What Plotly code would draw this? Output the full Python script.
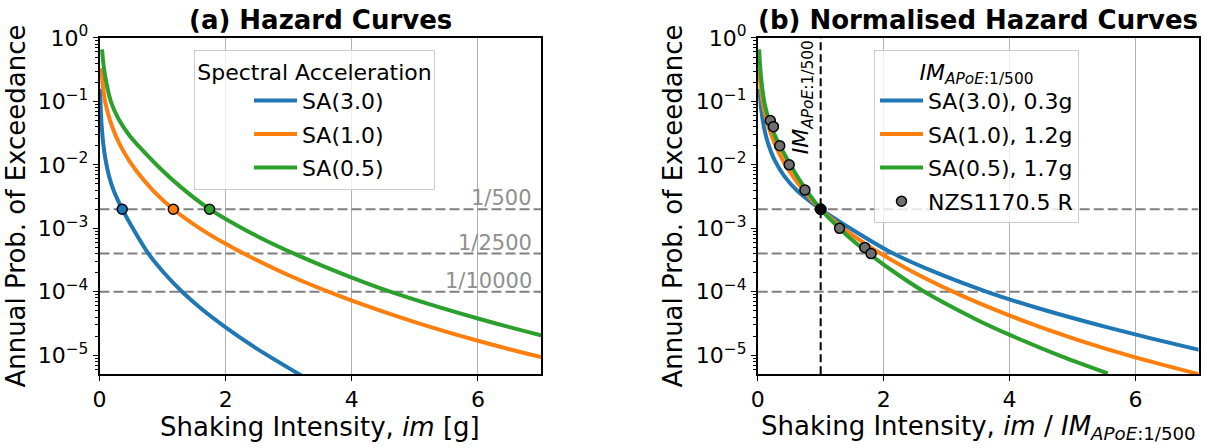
import math
import plotly.graph_objects as go

# ---------------- data ----------------
sa_labels = ["SA(3.0)", "SA(1.0)", "SA(0.5)"]
sa_labels_norm = ["SA(3.0), 0.3g", "SA(1.0), 1.2g", "SA(0.5), 1.7g"]
colors = ["#1f77b4", "#ff7f0e", "#2ca02c"]

# hazard curves: shaking intensity [g] and annual probability of exceedance
sa30_im = [0.01, 0.02, 0.036, 0.06, 0.094, 0.15, 0.223, 0.36, 0.5, 0.77, 1.0, 1.31, 1.6, 2.0, 2.5, 3.2]
sa30_apoe = [0.158, 0.075, 0.0389, 0.0214, 0.0123, 6.76e-3, 3.98e-3, 2.0e-3, 1.12e-3, 4.07e-4,
             2.11e-4, 1.0e-4, 5.55e-5, 2.75e-5, 1.26e-5, 4.79e-6]

sa10_im = [0.03, 0.05, 0.092, 0.16, 0.265, 0.4, 0.58, 0.85, 1.17, 1.59, 2.0, 2.3, 3.0, 3.8, 5.0,
           6.0, 7.0, 8.25]
sa10_apoe = [0.333, 0.190, 0.0966, 0.0525, 0.0276, 0.0151, 8.15e-3, 3.94e-3, 2.0e-3, 1.0e-3,
             5.69e-4, 3.93e-4, 1.82e-4, 8.63e-5, 3.33e-5, 1.69e-5, 9.35e-6, 4.90e-6]

sa05_im = [0.04, 0.065, 0.107, 0.186, 0.3, 0.477, 0.7, 0.976, 1.3, 1.745, 2.0, 2.5, 3.11, 3.96,
           4.62, 6.0, 7.0, 8.4, 9.7]
sa05_apoe = [0.661, 0.369, 0.2, 0.0955, 0.0533, 0.0288, 0.01626, 8.51e-3, 4.37e-3, 2.0e-3,
             1.406e-3, 7.52e-4, 3.89e-4, 1.74e-4, 1.0e-4, 3.80e-5, 2.07e-5, 9.70e-6, 5.19e-6]

# intensity at APoE 1/500 for each curve [g]
im_500 = [0.36, 1.17, 1.745]

# reference probability levels
apoe_levels = [1 / 500, 1 / 2500, 1 / 10000]
apoe_labels = ["1/500", "1/2500", "1/10000"]

# NZS1170.5 return-period factor R vs annual probability
nzs_r = [0.2, 0.25, 0.35, 0.5, 0.75, 1.0, 1.3, 1.7, 1.8]
nzs_apoe = [1 / 20, 1 / 25, 1 / 50, 1 / 100, 1 / 250, 1 / 500, 1 / 1000, 1 / 2000, 1 / 2500]

# axis ticks
x_ticks = [0, 2, 4, 6]
y_ticks = [1, 1e-1, 1e-2, 1e-3, 1e-4, 1e-5]
y_ticktext = ["10<sup>0</sup>", "10<sup>\u22121</sup>", "10<sup>\u22122</sup>",
              "10<sup>\u22123</sup>", "10<sup>\u22124</sup>", "10<sup>\u22125</sup>"]

curves_im = [sa30_im, sa10_im, sa05_im]
curves_apoe = [sa30_apoe, sa10_apoe, sa05_apoe]

# ---------------- figure ----------------
FONT = "DejaVu Sans"
W, H = 1211, 448
fig = go.Figure()

# reference dashed lines (both panels)
for xa, ya in [("x", "y"), ("x2", "y2")]:
    for lv in apoe_levels:
        fig.add_trace(go.Scatter(x=[0, 7], y=[lv, lv], mode="lines", xaxis=xa, yaxis=ya,
                                 line=dict(color="#808080", width=2, dash="10px,4px"),
                                 showlegend=False, hoverinfo="skip"))

# panel (a)
for i in range(3):
    fig.add_trace(go.Scatter(x=curves_im[i], y=curves_apoe[i], mode="lines", name=sa_labels[i],
                             line=dict(color=colors[i], width=4, shape="spline", smoothing=0.8),
                             xaxis="x", yaxis="y", legend="legend", legendgroup=f"a{i}"))
for i in range(3):
    fig.add_trace(go.Scatter(x=[im_500[i]], y=[apoe_levels[0]], mode="markers", showlegend=False,
                             marker=dict(color=colors[i], size=10, line=dict(color="black", width=1.5)),
                             xaxis="x", yaxis="y"))

# panel (b): normalised curves
fig.add_trace(go.Scatter(x=[1, 1], y=[5e-6, 1], mode="lines", xaxis="x2", yaxis="y2",
                         line=dict(color="black", width=2, dash="8px,4px"),
                         showlegend=False, hoverinfo="skip"))
for i in range(3):
    xn = [v / im_500[i] for v in curves_im[i]]
    fig.add_trace(go.Scatter(x=xn, y=curves_apoe[i], mode="lines", name=sa_labels_norm[i],
                             line=dict(color=colors[i], width=4, shape="spline", smoothing=0.8),
                             xaxis="x2", yaxis="y2", legend="legend2", legendgroup=f"b{i}"))
fig.add_trace(go.Scatter(x=nzs_r, y=nzs_apoe, mode="markers", name="NZS1170.5 R",
                         marker=dict(color="#6e6e6e", size=10, line=dict(color="black", width=1.5)),
                         xaxis="x2", yaxis="y2", legend="legend2", legendgroup="b3"))
fig.add_trace(go.Scatter(x=[1], y=[apoe_levels[0]], mode="markers", showlegend=False,
                         marker=dict(color="black", size=11, line=dict(color="black", width=1)),
                         xaxis="x2", yaxis="y2"))

# ---------------- layout ----------------
y0, y1 = (H - 374.3) / H, (H - 37.9) / H
xd1 = [99.5 / W, 541 / W]
xd2 = [757.7 / W, 1198.5 / W]

minor_vals = [k * 10 ** e for e in range(-6, 0) for k in range(2, 10)]

def xaxis_style(domain, anchor):
    return dict(domain=domain, anchor=anchor, range=[0, 7], tickmode="array", tickvals=x_ticks,
                ticks="outside", ticklen=5, tickwidth=1.3, tickcolor="black", automargin=False,
                showgrid=True, gridcolor="#b0b0b0", gridwidth=1, zeroline=False,
                showline=True, linecolor="black", linewidth=1.5, mirror=True,
                tickfont=dict(family=FONT, size=22, color="black"))

def yaxis_style(anchor):
    return dict(domain=[y0, y1], anchor=anchor, type="log", range=[-5.3, 0], automargin=False,
                tickmode="array", tickvals=y_ticks, ticktext=y_ticktext,
                ticks="outside", ticklen=5, tickwidth=1.3, tickcolor="black",
                minor=dict(tickmode="array", tickvals=minor_vals, ticks="outside", ticklen=3,
                           tickwidth=1, tickcolor="black", showgrid=False),
                showgrid=False, zeroline=False,
                showline=True, linecolor="black", linewidth=1.5, mirror=True,
                tickfont=dict(family=FONT, size=22, color="black"))

legend_common = dict(bgcolor="rgba(255,255,255,0.8)", bordercolor="#cccccc", borderwidth=1,
                     font=dict(family=FONT, size=22, color="black"), xanchor="left", yanchor="top",
                     itemwidth=43, tracegroupgap=2, traceorder="grouped")

fig.update_layout(
    template="none",
    width=W, height=H, margin=dict(l=0, r=0, t=0, b=0, pad=0, autoexpand=False),
    paper_bgcolor="white", plot_bgcolor="white",
    font=dict(family=FONT, color="black"),
    xaxis=xaxis_style(xd1, "y"), yaxis=yaxis_style("x"),
    xaxis2=xaxis_style(xd2, "y2"), yaxis2=yaxis_style("x2"),
    legend=dict(x=194 / W, y=(H - 50) / H, indentation=54,
                title=dict(text="Spectral Acceleration", side="top center",
                           font=dict(family=FONT, size=22, color="black")), **legend_common),
    legend2=dict(x=874 / W, y=(H - 50) / H, indentation=0,
                 title=dict(text="<i>IM</i><sub><i>APoE</i>:1/500</sub>", side="top center",
                            font=dict(family=FONT, size=22, color="black")), **legend_common),
    showlegend=True,
)

ann = []
# titles
ann.append(dict(text="<b>(a) Hazard Curves</b>", x=(xd1[0] + xd1[1]) / 2, y=(H - 20) / H,
                xref="paper", yref="paper", showarrow=False, xanchor="center", yanchor="middle",
                font=dict(family=FONT, size=26, color="black")))
ann.append(dict(text="<b>(b) Normalised Hazard Curves</b>", x=(xd2[0] + xd2[1]) / 2, y=(H - 20) / H,
                xref="paper", yref="paper", showarrow=False, xanchor="center", yanchor="middle",
                font=dict(family=FONT, size=26, color="black")))
# axis titles
for cx in [16.5 / W, 673.5 / W]:
    ann.append(dict(text="Annual Prob. of Exceedance", x=cx, y=(y0 + y1) / 2, textangle=-90,
                    xref="paper", yref="paper", showarrow=False, xanchor="center", yanchor="middle",
                    font=dict(family=FONT, size=26, color="black")))
ann.append(dict(text="Shaking Intensity, <i>im</i> [g]", x=(xd1[0] + xd1[1]) / 2, y=(H - 427) / H,
                xref="paper", yref="paper", showarrow=False, xanchor="center", yanchor="middle",
                font=dict(family=FONT, size=26, color="black")))
ann.append(dict(text="Shaking Intensity, <i>im</i> / <i>IM</i><sub><i>APoE</i>:1/500</sub>",
                x=(xd2[0] + xd2[1]) / 2, y=(H - 427) / H,
                xref="paper", yref="paper", showarrow=False, xanchor="center", yanchor="middle",
                font=dict(family=FONT, size=26, color="black")))
# reference level labels (panel a)
for lv, lab in zip(apoe_levels, apoe_labels):
    ann.append(dict(text=lab, x=7, y=math.log10(lv), xref="x", yref="y", showarrow=False,
                    xanchor="right", yanchor="bottom", xshift=-7, yshift=-3,
                    font=dict(family=FONT, size=21, color="#8f8f8f")))
# rotated label next to the vertical line
ann.append(dict(text="<i>IM</i><sub><i>APoE</i>:1/500</sub>", x=1, y=(H - 97) / H,
                xref="x2", yref="paper", showarrow=False, textangle=-90,
                xanchor="right", yanchor="middle", xshift=-1,
                font=dict(family=FONT, size=22, color="black")))
fig.update_layout(annotations=ann)

fig.write_html("out.html")
